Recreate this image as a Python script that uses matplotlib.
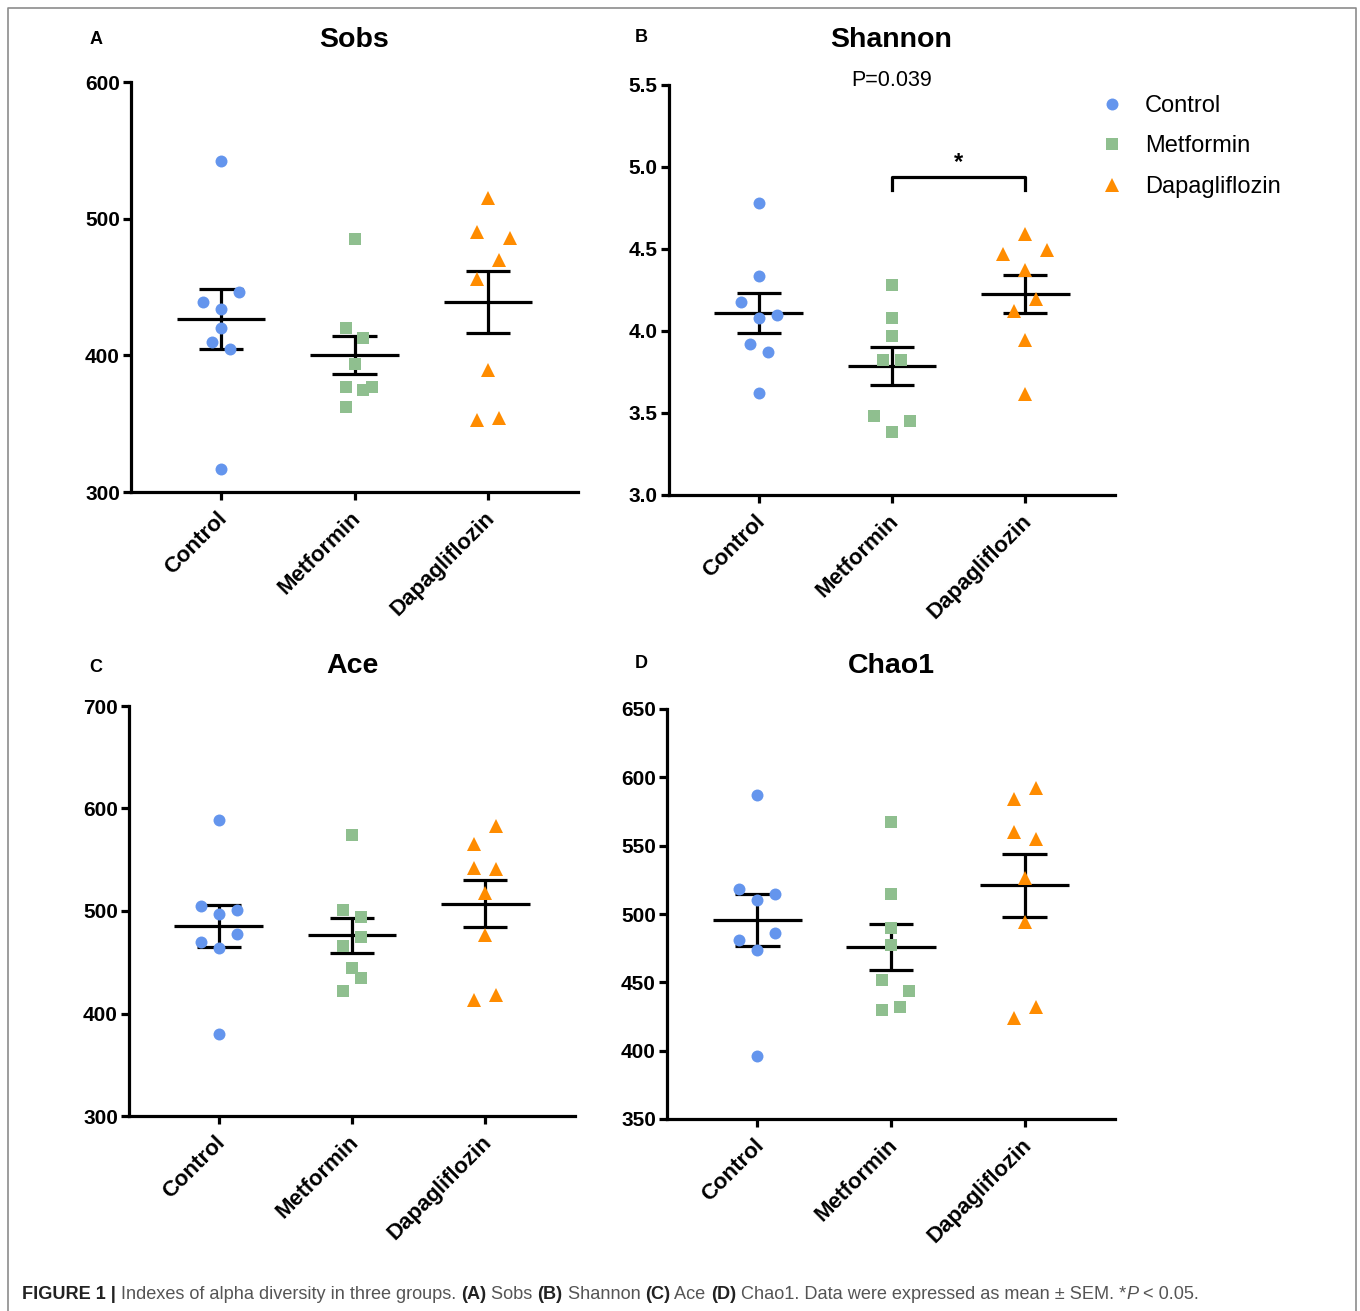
import numpy as np
import matplotlib
matplotlib.use('Agg')
import matplotlib.pyplot as plt
from matplotlib.lines import Line2D
from matplotlib.text import Annotation
from matplotlib.transforms import ScaledTranslation
from matplotlib import font_manager

plt.rcParams['font.family'] = ['Liberation Sans', 'DejaVu Sans']

groups = ['Control', 'Metformin', 'Dapagliflozin']
colors = ['#6495ED', '#8FBF8F', '#FF8C00']
markers = ['o', 's', '^']
msizes = [8.6, 8.6, 10.5]

# values (8 animals per group)
sobs_control = [542, 446, 439, 434, 420, 410, 405, 317]
sobs_metformin = [485, 420, 413, 394, 377, 375, 377, 362]
sobs_dapa = [515, 490, 486, 470, 456, 389, 353, 354]

shannon_control = [4.78, 4.335, 4.177, 4.10, 4.077, 3.923, 3.872, 3.622]
shannon_metformin = [4.28, 4.081, 3.968, 3.825, 3.825, 3.482, 3.451, 3.386]
shannon_dapa = [4.593, 4.468, 4.492, 4.37, 4.197, 4.122, 3.947, 3.618]

ace_control = [589, 505, 501, 497, 478, 470, 464, 380]
ace_metformin = [574, 501, 494, 475, 466, 444, 435, 422]
ace_dapa = [583, 565, 542, 541, 518, 477, 413, 418]

chao_control = [587, 518, 515, 510, 486, 481, 474, 396]
chao_metformin = [567, 515, 490, 477, 452, 444, 432, 430]
chao_dapa = [592, 584, 560, 555, 526, 494, 424, 432]

# horizontal scatter slots (GraphPad-style spreading), in marker half-widths
sobs_slots = [[0, 2, -2, 0, 0, -1, 1, 0],
              [0, -1, 1, 0, -1, 1, 2, -1],
              [0, -1, 2, 1, -1, 0, -1, 1]]
shannon_slots = [[0, 0, -2, 2, 0, -1, 1, 0],
                 [0, 0, 0, -1, 1, -2, 2, 0],
                 [0, -2, 2, 0, 1, -1, 0, 0]]
ace_slots = [[0, -2, 2, 0, 2, -2, 0, 0],
             [0, -1, 1, 1, -1, 0, 1, -1],
             [1, -1, -1, 1, 0, 0, -1, 1]]
chao_slots = [[0, -2, 2, 0, 2, -2, 0, 0],
              [0, 0, 0, 0, -1, 2, 1, -1],
              [1, -1, -1, 1, 0, 0, -1, 1]]
slot_w = [0.0674, 0.0674, 0.0824]

W, H = 1360, 1311
fig = plt.figure(figsize=(W / 100, H / 100), dpi=100)
label_shift = ScaledTranslation(-4 / 100, 1 / 100, fig.dpi_scale_trans)


def draw_panel(rect, data, slots, ylim, yticks, fmt, title, letter, letter_xy, title_xy):
    ax = fig.add_axes([rect[0] / W, 1 - rect[3] / H, (rect[2] - rect[0]) / W, (rect[3] - rect[1]) / H])
    for i, (vals, sl) in enumerate(zip(data, slots)):
        vals = np.asarray(vals, float)
        m = vals.mean()
        sem = vals.std(ddof=1) / np.sqrt(len(vals))
        ax.hlines(m, i - 0.333, i + 0.333, color='k', lw=2.3, zorder=2)
        ax.vlines(i, m - sem, m + sem, color='k', lw=2.3, zorder=2)
        ax.hlines([m - sem, m + sem], i - 0.167, i + 0.167, color='k', lw=2.3, zorder=2)
        x = i + np.asarray(sl) * slot_w[i]
        ax.plot(x, vals, marker=markers[i], ls='none', ms=msizes[i], color=colors[i],
                mew=0, zorder=3, clip_on=False)
    ax.set_xlim(-0.674, 2.674)
    ax.set_ylim(*ylim)
    ax.set_yticks(yticks)
    ax.set_yticklabels([fmt.format(v) for v in yticks])
    ax.set_xticks(range(3))
    ax.set_xticklabels(groups, rotation=45, ha='right', va='top', rotation_mode='anchor')
    for s in ['top', 'right']:
        ax.spines[s].set_visible(False)
    for s in ['left', 'bottom']:
        ax.spines[s].set_linewidth(2.3)
    ax.tick_params(direction='out', length=6, width=2.3, labelsize=15)
    ax.tick_params(axis='y', pad=2)
    ax.tick_params(axis='x', pad=6, labelsize=16)
    for lab in ax.get_xticklabels():
        lab.set_fontweight('bold')
        lab.set_transform(lab.get_transform() + label_shift)
    for lab in ax.get_yticklabels():
        lab.set_fontweight('bold')
    fig.text(title_xy[0] / W, 1 - title_xy[1] / H, title, ha='center', va='center',
             fontsize=20.5, fontweight='bold')
    fig.text(letter_xy[0] / W, 1 - letter_xy[1] / H, letter, ha='center', va='center',
             fontsize=13, fontweight='bold')
    return ax


draw_panel((131, 82, 578, 492), [sobs_control, sobs_metformin, sobs_dapa], sobs_slots,
           (300, 600), [300, 400, 500, 600], '{:.0f}', 'Sobs', 'A', (96, 40), (354, 40))
axB = draw_panel((669, 85, 1115, 495), [shannon_control, shannon_metformin, shannon_dapa], shannon_slots,
                 (3.0, 5.5), [3.0, 3.5, 4.0, 4.5, 5.0, 5.5], '{:.1f}', 'Shannon', 'B', (641, 37), (891, 40))
draw_panel((129, 706, 575, 1116), [ace_control, ace_metformin, ace_dapa], ace_slots,
           (300, 700), [300, 400, 500, 600, 700], '{:.0f}', 'Ace', 'C', (96, 667), (352, 666))
draw_panel((667, 709, 1115, 1119), [chao_control, chao_metformin, chao_dapa], chao_slots,
           (350, 650), [350, 400, 450, 500, 550, 600, 650], '{:.0f}', 'Chao1', 'D', (641, 664), (891, 666))

# significance bracket and p value on Shannon
axB.plot([1, 1, 2, 2], [4.86, 4.94, 4.94, 4.86], color='k', lw=2.3, clip_on=False)
axB.text(1.5, 5.03, '*', ha='center', va='center', fontsize=17, fontweight='bold')
axB.text(1, 5.525, 'P=0.039', ha='center', va='center', fontsize=15.5, clip_on=False)

# legend
handles = [Line2D([], [], marker=markers[i], ls='none', color=colors[i], ms=msizes[i], mew=0)
           for i in range(3)]
fig.legend(handles, groups, loc='upper left', bbox_to_anchor=(1100 / W, 1 - 95 / H),
           frameon=False, fontsize=17, handlelength=1.0, handletextpad=0.9,
           labelspacing=0.78, borderaxespad=0, borderpad=0)

# outer frame
fc = '#8c8c8c'
fig.add_artist(Line2D([8 / W, 8 / W, 1356 / W, 1356 / W], [0, 1 - 8 / H, 1 - 8 / H, 0],
                      color=fc, lw=1.2, transform=fig.transFigure))

# caption
names = {f.name for f in font_manager.fontManager.ttflist}
cap_font = 'Liberation Sans Narrow' if 'Liberation Sans Narrow' in names else 'Liberation Sans'
parts = [('FIGURE 1 | ', 'bold', 'normal', '#222222'),
         ('Indexes of alpha diversity in three groups. ', 'normal', 'normal', '#555555'),
         ('(A)', 'bold', 'normal', '#222222'), (' Sobs ', 'normal', 'normal', '#555555'),
         ('(B)', 'bold', 'normal', '#222222'), (' Shannon ', 'normal', 'normal', '#555555'),
         ('(C)', 'bold', 'normal', '#222222'), (' Ace ', 'normal', 'normal', '#555555'),
         ('(D)', 'bold', 'normal', '#222222'),
         (' Chao1. Data were expressed as mean \u00b1 SEM. *', 'normal', 'normal', '#555555'),
         ('P', 'normal', 'italic', '#555555'), (' < 0.05.', 'normal', 'normal', '#555555')]
last = None
for txt, wt, st, col in parts:
    kw = dict(fontsize=13.1, fontweight=wt, fontstyle=st, color=col, family=[cap_font, 'DejaVu Sans'],
              ha='left', va='bottom')
    if last is None:
        last = fig.text(22 / W, 1 - 1303 / H, txt, **kw)
    else:
        last = fig.add_artist(Annotation(txt, xy=(1, 0), xycoords=last, **kw))

fig.savefig('out.png', dpi=100)
